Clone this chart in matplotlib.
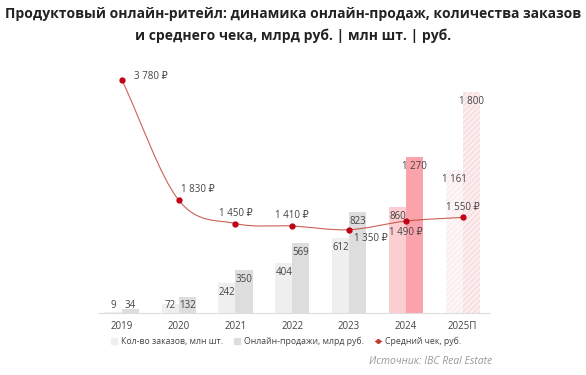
import matplotlib
matplotlib.use("Agg")
import matplotlib.pyplot as plt
import numpy as np
from matplotlib.path import Path
from matplotlib.patches import PathPatch
from matplotlib.lines import Line2D
from matplotlib.patches import Patch

years = ["2019", "2020", "2021", "2022", "2023", "2024", "2025П"]
orders = [9, 72, 242, 404, 612, 860, 1161]
sales = [34, 132, 350, 569, 823, 1270, 1800]
avg_check = [3780, 1830, 1450, 1410, 1350, 1490, 1550]
check_labels = ["3 780 ₽", "1 830 ₽", "1 450 ₽", "1 410 ₽", "1 350 ₽", "1 490 ₽", "1 550 ₽"]
order_labels = ["9", "72", "242", "404", "612", "860", "1 161"]
sales_labels = ["34", "132", "350", "569", "823", "1 270", "1 800"]

plt.rcParams['font.family'] = ['Open Sans', 'DejaVu Sans']
plt.rcParams['hatch.linewidth'] = 0.6

fig = plt.figure(figsize=(5.86, 3.75), dpi=100)
ax = fig.add_axes([98/586, 62/375, 392/586, 253/375])
ax2 = ax.twinx()
ax2.set_position(ax.get_position())

x = np.arange(len(years))
w = 0.30
ord_colors = ["#efefef"] * 5 + ["#fccdd1", "#fbf0f1"]
sal_colors = ["#dddddd"] * 5 + ["#fba3aa", "#f8e0e3"]

for i in range(len(years)):
    hatch = "//////" if i == 6 else None
    ax.bar(x[i] - w/2, orders[i], w, color=ord_colors[i], hatch=hatch,
           edgecolor="#ffffff" if hatch else "none", linewidth=0)
    ax.bar(x[i] + w/2, sales[i], w, color=sal_colors[i], hatch=hatch,
           edgecolor="#ffffff" if hatch else "none", linewidth=0)
    ax.text(x[i] - w/2, max(orders[i] - 75, 65), order_labels[i], ha="center", va="center",
            fontsize=7, color="#444444")
    ax.text(x[i] + w/2, max(sales[i] - 75, 65), sales_labels[i], ha="center", va="center",
            fontsize=7, color="#444444")

ax.set_xlim(-0.42, 6.48)
ax.set_ylim(0, (313 - 60) / 0.1228)
ax2.set_ylim(0, (313 - 60) / 0.0617)
for a in (ax, ax2):
    for s in a.spines.values():
        s.set_visible(False)
    a.set_yticks([])
ax.spines["bottom"].set_visible(True)
ax.spines["bottom"].set_color("#dddddd")
ax.spines["bottom"].set_linewidth(0.8)
ax.set_xticks(x)
ax.set_xticklabels(years, fontsize=7, color="#444444")
ax.tick_params(axis="x", length=0, pad=6)

# smooth (Catmull-Rom) rendering of the line through the data points
xs = x.astype(float)
ys = np.array(avg_check, dtype=float)
n = len(xs)
m = np.zeros(n)
m[0] = ys[1] - ys[0]
m[-1] = ys[-1] - ys[-2]
for k in range(1, n - 1):
    m[k] = (ys[k+1] - ys[k-1]) / 2
verts = [(xs[0], ys[0])]
codes = [Path.MOVETO]
for k in range(n - 1):
    dx = (xs[k+1] - xs[k]) / 3
    verts += [(xs[k] + dx, ys[k] + m[k] * dx), (xs[k+1] - dx, ys[k+1] - m[k+1] * dx), (xs[k+1], ys[k+1])]
    codes += [Path.CURVE4] * 3
ax2.add_patch(PathPatch(Path(verts, codes), facecolor="none", edgecolor="#c0392b", linewidth=0.8, alpha=0.8))
ax2.plot(xs, ys, "o", color="#c00015", markersize=3.5, linestyle="none")

offsets = [(12, 3, "left"), (2, 11, "left"), (0, 10, "center"), (0, 11, "center"),
           (22, -9, "center"), (0, -11, "center"), (0, 10, "center")]
for i, (dx, dy, ha) in enumerate(offsets):
    ax2.annotate(check_labels[i], (xs[i], ys[i]), xytext=(dx * 0.72, dy * 0.72), textcoords="offset points",
                 ha=ha, va="center", fontsize=7, color="#444444")

fig.text(0.5, 0.963, "Продуктовый онлайн-ритейл: динамика онлайн-продаж, количества заказов",
         ha="center", va="center", fontsize=10, fontweight="bold", color="#222222")
fig.text(0.5, 0.905, "и среднего чека, млрд руб. | млн шт. | руб.",
         ha="center", va="center", fontsize=10, fontweight="bold", color="#222222")

handles = [Patch(color="#efefef"), Patch(color="#dddddd"),
           Line2D([0], [0], color="#c0392b", marker="o", markersize=2.5, linewidth=0.8)]
leg = fig.legend(handles, ["Кол-во заказов, млн шт.", "Онлайн-продажи, млрд руб.", "Средний чек, руб."],
                 loc="center", bbox_to_anchor=(286/586, 1 - 341/375), ncol=3, frameon=False,
                 fontsize=6.3, handlelength=0.7, handleheight=0.7, handletextpad=0.4, columnspacing=1.3,
                 labelcolor="#444444")

fig.text(492/586, 1 - 361/375, "Источник: IBC Real Estate", ha="right", va="center",
         fontsize=7.5, style="italic", color="#999999")

fig.savefig("out.png", dpi=100)
